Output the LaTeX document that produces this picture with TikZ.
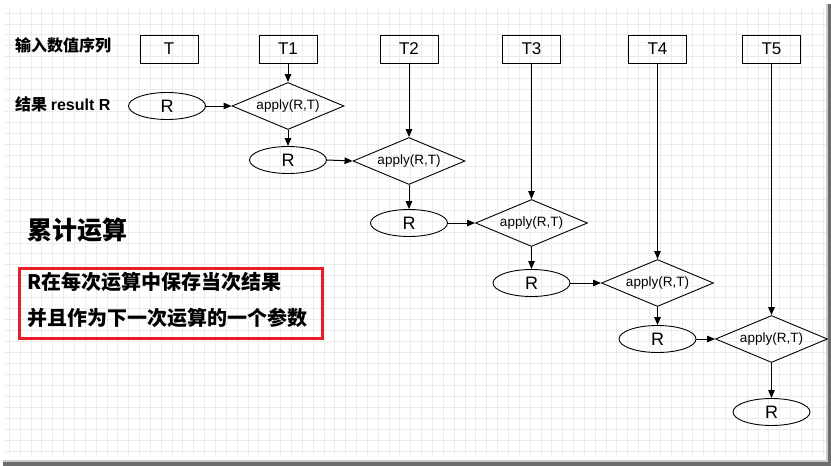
\documentclass[tikz,border=0pt]{standalone}
\usepackage{fontspec}
\setmainfont{Liberation Sans}
\newfontfamily\cjk{Noto Sans CJK SC}
\usetikzlibrary{shapes.geometric,arrows.meta}
\tikzset{
  gridline/.style={draw=gray!16,line width=0.9pt},
  tbox/.style={draw,line width=1pt,minimum width=58pt,minimum height=28pt,inner sep=0pt,font=\fontsize{17}{17}\selectfont},
  rell/.style={draw,ellipse,line width=0.9pt,minimum width=77pt,minimum height=27pt,inner sep=0pt,font=\fontsize{18}{18}\selectfont},
  appl/.style={draw,diamond,aspect=2.4,line width=0.9pt,minimum width=112pt,minimum height=47pt,inner sep=0pt,font=\fontsize{13.5}{13.5}\selectfont},
  arr/.style={line width=1pt,-{Triangle[length=8pt,width=6.5pt]}},
  lbl/.style={anchor=west,inner sep=0pt,font=\cjk\bfseries\fontsize{16}{16}\selectfont},
}
\begin{document}
\begin{tikzpicture}[x=1pt,y=-1pt]
\useasboundingbox (0,0) rectangle (831,466);
% grid
\foreach \k in {0,...,75} {\draw[gridline] ({9.3+10.85*\k},7) -- ({9.3+10.85*\k},455);}
\foreach \k in {0,...,40} {\draw[gridline] (5,{13+10.95*\k}) -- (826,{13+10.95*\k});}
% shadow
\fill[gray!85!black] (827,4) rectangle (831,466);
\fill[gray!85!black] (3,461) rectangle (831,466);
\fill[gray!40] (826,4) rectangle (827.5,461);
\fill[gray!40] (3,460) rectangle (827.5,461.5);
% labels
\node[lbl] (l1) at (15,45) {输入数值序列};
\node[lbl] (l2) at (15,104) {结果 \sffamily\fontspec{Liberation Sans}\bfseries result R};
\node[lbl,font=\cjk\bfseries\fontsize{25}{25}\selectfont] (l3) at (27,230) {累计运算};
\node[draw={rgb,255:red,232;green,30;blue,40},line width=3pt,minimum width=303pt,minimum height=70pt,anchor=north west] (rb) at (18.3,266.7) {};
\node[lbl,font=\cjk\bfseries\fontsize{20}{20}\selectfont] (t1) at (27,282) {R在每次运算中保存当次结果};
\node[lbl,font=\cjk\bfseries\fontsize{20}{20}\selectfont] (t2) at (27,318) {并且作为下一次运算的一个参数};
% T boxes
\node[tbox] (T) at (169,49) {T};
\node[tbox] (T1) at (288,49) {T1};
\node[tbox] (T2) at (409,49) {T2};
\node[tbox] (T3) at (531.5,49) {T3};
\node[tbox] (T4) at (657.5,49) {T4};
\node[tbox] (T5) at (771.5,49) {T5};
% ellipses
\node[rell] (R1) at (167,106) {R};
\node[rell] (R2) at (288,160) {R};
\node[rell] (R3) at (409,223) {R};
\node[rell] (R4) at (531.5,283) {R};
\node[rell] (R5) at (657.5,339) {R};
\node[rell] (R6) at (771.5,412) {R};
% diamonds
\node[appl] (D1) at (288,106) {apply(R,T)};
\node[appl] (D2) at (409,161) {apply(R,T)};
\node[appl] (D3) at (531.5,223) {apply(R,T)};
\node[appl] (D4) at (657.5,283) {apply(R,T)};
\node[appl] (D5) at (771.5,339) {apply(R,T)};
% arrows
\foreach \i/\j in {1/2,2/3,3/4,4/5,5/6} {
  \draw[arr] (R\i.east) -- (D\i.west);
  \draw[arr] (T\i.south) -- (D\i.north);
  \draw[arr] (D\i.south) -- (R\j.north);
}
\end{tikzpicture}
\end{document}
